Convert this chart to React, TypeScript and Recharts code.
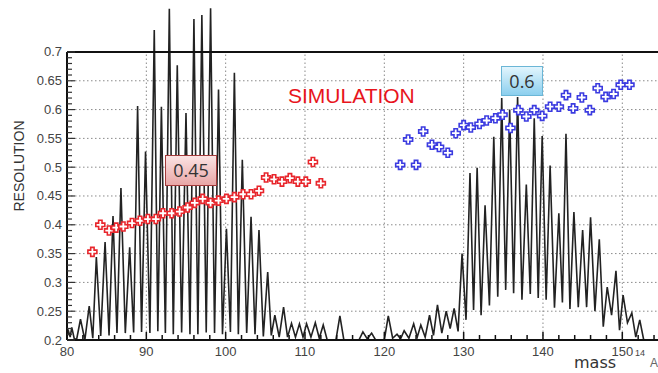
import React from 'react';
import { ComposedChart, Line, Scatter, XAxis, YAxis, ReferenceLine } from 'recharts';

// spectrum: [mass, value]
const SPECTRUM: [number, number][] = [
  [79.9, 0.2], [80.2, 0.215], [80.4, 0.205], [80.6, 0.222], [80.9, 0.203], [81.2, 0.2],
  [81.7, 0.236], [82.25, 0.2], [82.8, 0.259], [83.25, 0.203], [83.7, 0.344], [84.25, 0.207],
  [84.8, 0.37], [85.3, 0.208], [85.8, 0.415], [86.3, 0.212], [86.8, 0.464], [87.35, 0.212],
  [87.9, 0.361], [88.4, 0.213], [88.9, 0.606], [89.4, 0.214], [89.9, 0.527], [90.45, 0.212],
  [91.0, 0.738], [91.45, 0.215], [91.9, 0.605], [92.4, 0.212], [92.9, 0.775], [93.4, 0.21],
  [93.9, 0.677], [94.45, 0.213], [95.0, 0.594], [95.5, 0.21], [96.0, 0.757], [96.5, 0.21],
  [97.0, 0.764], [97.55, 0.213], [98.1, 0.776], [98.6, 0.212], [99.1, 0.635], [99.6, 0.21],
  [100.1, 0.393], [100.6, 0.214], [101.1, 0.664], [101.6, 0.21], [102.1, 0.513], [102.65, 0.212],
  [103.2, 0.414], [103.7, 0.21], [104.2, 0.391], [104.75, 0.206], [105.3, 0.318], [105.75, 0.208],
  [106.2, 0.243], [106.75, 0.205], [107.3, 0.257], [107.8, 0.205], [108.3, 0.229], [108.8, 0.205],
  [109.3, 0.228], [109.75, 0.205], [110.2, 0.228], [110.75, 0.205], [111.3, 0.23], [111.8, 0.203],
  [112.3, 0.226], [112.8, 0.2], [113.9, 0.2], [114.4, 0.242], [114.9, 0.2], [116.8, 0.2],
  [117.3, 0.214], [117.85, 0.202], [118.4, 0.212], [118.9, 0.2], [120.0, 0.2], [120.5, 0.242],
  [121.05, 0.203], [121.6, 0.21], [122.05, 0.202], [122.5, 0.216], [123.1, 0.203], [123.7, 0.228],
  [124.15, 0.205], [124.6, 0.226], [125.15, 0.205], [125.7, 0.243], [126.2, 0.208], [126.7, 0.261],
  [127.25, 0.212], [127.8, 0.25], [128.3, 0.22], [128.8, 0.255], [129.3, 0.215], [129.8, 0.35],
  [130.3, 0.235], [130.8, 0.49], [131.25, 0.252], [131.7, 0.499], [132.2, 0.243], [132.7, 0.434],
  [133.25, 0.26], [133.8, 0.553], [134.3, 0.275], [134.8, 0.62], [135.3, 0.287], [135.8, 0.6],
  [136.3, 0.281], [136.8, 0.622], [137.35, 0.27], [137.9, 0.47], [138.4, 0.28], [138.9, 0.585],
  [139.4, 0.273], [139.9, 0.554], [140.4, 0.27], [140.9, 0.503], [141.45, 0.256], [142.0, 0.42],
  [142.45, 0.265], [142.9, 0.558], [143.4, 0.254], [143.9, 0.422], [144.45, 0.257], [145.0, 0.391],
  [145.5, 0.257], [146.0, 0.413], [146.55, 0.25], [147.1, 0.375], [147.6, 0.223], [148.1, 0.292],
  [148.65, 0.243], [149.2, 0.32], [149.65, 0.217], [150.1, 0.278], [150.65, 0.23], [151.2, 0.247],
  [151.7, 0.205], [152.2, 0.235], [152.7, 0.2], [154.5, 0.2],
];

const RED_MASS = [83.2, 84.2, 85.3, 86.2, 87.1, 88.2, 89.2, 90.2, 91.2, 92.1, 93.2, 94.2, 95.2, 96.1, 97.1,
  98.1, 99.1, 100.1, 101.1, 102.2, 103.2, 104.2, 105.1, 106.1, 107.1, 108.1, 109.1, 110.1, 111.0, 112.0];
const RED_RES = [0.353, 0.4, 0.39, 0.395, 0.397, 0.403, 0.407, 0.41, 0.41, 0.42, 0.42, 0.423, 0.43, 0.438, 0.445,
  0.438, 0.442, 0.445, 0.448, 0.453, 0.453, 0.459, 0.482, 0.479, 0.475, 0.481, 0.475, 0.475, 0.509, 0.472];

const BLUE_MASS = [122.0, 123.0, 124.0, 124.9, 126.0, 126.9, 128.0, 129.0, 130.0, 130.9, 132.0, 132.9, 134.0,
  134.9, 135.9, 136.9, 137.9, 138.9, 139.9, 140.9, 142.0, 142.9, 143.8, 144.9, 145.9, 146.9, 147.9, 148.9,
  149.8, 150.9];
const BLUE_RES = [0.504, 0.548, 0.504, 0.562, 0.539, 0.535, 0.525, 0.559, 0.573, 0.569, 0.575, 0.581, 0.585,
  0.591, 0.568, 0.599, 0.588, 0.599, 0.589, 0.605, 0.605, 0.625, 0.602, 0.621, 0.599, 0.637, 0.622, 0.627,
  0.643, 0.643];

const X_LABELS = [80, 90, 100, 110, 120, 130, 140, 150];
const X_MINOR = [80, 82, 84, 86, 88, 90, 92, 94, 96, 98, 100, 102, 104, 106, 108, 110, 112, 114, 116, 118,
  120, 122, 124, 126, 128, 130, 132, 134, 136, 138, 140, 142, 144, 146, 148, 150, 152, 154];
const Y_LABELS = [0.2, 0.25, 0.3, 0.35, 0.4, 0.45, 0.5, 0.55, 0.6, 0.65, 0.7];

const X_MIN = 80;
const X_MAX = 154.5;
const Y_MIN = 0.2;
const Y_TOP = 0.7;

const specData = SPECTRUM.map(([m, v]) => ({ m, v }));
const redData = RED_MASS.map((m, i) => ({ m, v: RED_RES[i] }));
const blueData = BLUE_MASS.map((m, i) => ({ m, v: BLUE_RES[i] }));
const yMinor = Y_LABELS.slice(0, -1).flatMap((t) => [0, 1, 2, 3, 4].map((k) => +(t + k * 0.01).toFixed(2))).concat([Y_TOP]);

const isMajorY = (v: number) => Y_LABELS.some((t) => Math.abs(t - v) < 1e-6);

const XTick = ({ x, y, payload }: any) => {
  const v = payload.value;
  const major = X_LABELS.includes(v);
  return (
    <g>
      <line x1={x} x2={x} y1={y} y2={y - (major ? 8 : 5)} stroke="#111" strokeWidth={1.5} />
      {major && (
        <text x={x} y={y + 16} textAnchor="middle" fontSize={13} fill="#444">{v}</text>
      )}
    </g>
  );
};

const YTick = ({ x, y, payload }: any) => {
  const v = payload.value;
  const major = isMajorY(v);
  return (
    <g>
      <line x1={x} x2={x + (major ? 8 : 5)} y1={y} y2={y} stroke="#333" strokeWidth={1.2} />
      {major && (
        <text x={x - 5} y={y + 4.5} textAnchor="end" fontSize={13} fill="#444">{v}</text>
      )}
    </g>
  );
};

const Plus = ({ cx, cy, color }: any) => {
  const a = 4.5, b = 1.7;
  const d = `M${cx - b},${cy - a} H${cx + b} V${cy - b} H${cx + a} V${cy + b} H${cx + b} V${cy + a} H${cx - b} V${cy + b} H${cx - a} V${cy - b} H${cx - b} Z`;
  return <path d={d} fill="#fff" stroke={color} strokeWidth={1.6} />;
};

const dotted = { stroke: '#8a8a8a', strokeDasharray: '1.5 2.5', strokeWidth: 1 };

export default function App() {
  return (
    <div style={{ position: 'absolute', left: 0, top: 0, width: 658, height: 373, background: '#fff',
      fontFamily: '"Liberation Sans", Arial, sans-serif', overflow: 'hidden' }}>
      <ComposedChart width={658} height={373} data={specData}
        margin={{ top: 3, right: 0, bottom: 0, left: 0 }}>
        <XAxis type="number" dataKey="m" domain={[X_MIN, X_MAX]} allowDataOverflow ticks={X_MINOR}
          interval={0} tickSize={0} tickMargin={0} tick={<XTick />} height={33}
          axisLine={{ stroke: '#111', strokeWidth: 2 }} />
        <YAxis type="number" dataKey="v" domain={[Y_MIN, 0.785]} allowDataOverflow ticks={yMinor}
          interval={0} tickSize={0} tickMargin={0} tick={<YTick />} width={67} axisLine={false} />
        {Y_LABELS.slice(1, -1).map((t) => (
          <ReferenceLine key={'h' + t} segment={[{ x: X_MIN, y: t }, { x: X_MAX, y: t }]} {...dotted} />
        ))}
        {X_LABELS.slice(1).map((t) => (
          <ReferenceLine key={'v' + t} segment={[{ x: t, y: Y_MIN }, { x: t, y: Y_TOP }]} {...dotted} />
        ))}
        <Line type="linear" dataKey="v" stroke="#222" strokeWidth={1.6} dot={false}
          isAnimationActive={false} />
        <ReferenceLine segment={[{ x: X_MIN, y: Y_TOP }, { x: X_MAX, y: Y_TOP }]} stroke="#111" strokeWidth={2} />
        <ReferenceLine segment={[{ x: X_MIN, y: Y_MIN }, { x: X_MIN, y: Y_TOP }]} stroke="#111" strokeWidth={2} />
        <Scatter data={redData} isAnimationActive={false} shape={(p: any) => <Plus {...p} color="#e8262c" />} />
        <Scatter data={blueData} isAnimationActive={false} shape={(p: any) => <Plus {...p} color="#3b3be0" />} />
      </ComposedChart>

      <div style={{ position: 'absolute', left: 288, top: 84, fontSize: 21, color: '#e8141c', lineHeight: '24px' }}>
        SIMULATION
      </div>
      <div style={{ position: 'absolute', left: 165, top: 155, width: 50, height: 29, boxSizing: 'content-box',
        border: '1px solid #a33a3a', background: 'linear-gradient(#fbe3e3, #e8a6a6)', textAlign: 'center',
        lineHeight: '29px', fontSize: 18, color: '#333', fontFamily: '"Open Sans", sans-serif' }}>
        0.45
      </div>
      <div style={{ position: 'absolute', left: 501, top: 66, width: 40, height: 28, boxSizing: 'content-box',
        border: '1px solid #6bb6d6', background: 'linear-gradient(#e2f5fd, #8ccfee)', textAlign: 'center',
        lineHeight: '28px', fontSize: 18, color: '#333', fontFamily: '"Open Sans", sans-serif' }}>
        0.6
      </div>
      <div style={{ position: 'absolute', left: -41, top: 156, width: 120, height: 20, lineHeight: '20px',
        textAlign: 'center', transform: 'rotate(-90deg)', fontSize: 14, color: '#333' }}>
        RESOLUTION
      </div>
      <div style={{ position: 'absolute', left: 574, top: 355, fontSize: 16, color: '#333', lineHeight: '16px',
        fontFamily: '"DejaVu Sans", sans-serif' }}>
        mass
      </div>
      <div style={{ position: 'absolute', left: 635, top: 348, fontSize: 9, color: '#444' }}>14</div>
      <div style={{ position: 'absolute', left: 650, top: 356, fontSize: 12, color: '#666' }}>A</div>
    </div>
  );
}
